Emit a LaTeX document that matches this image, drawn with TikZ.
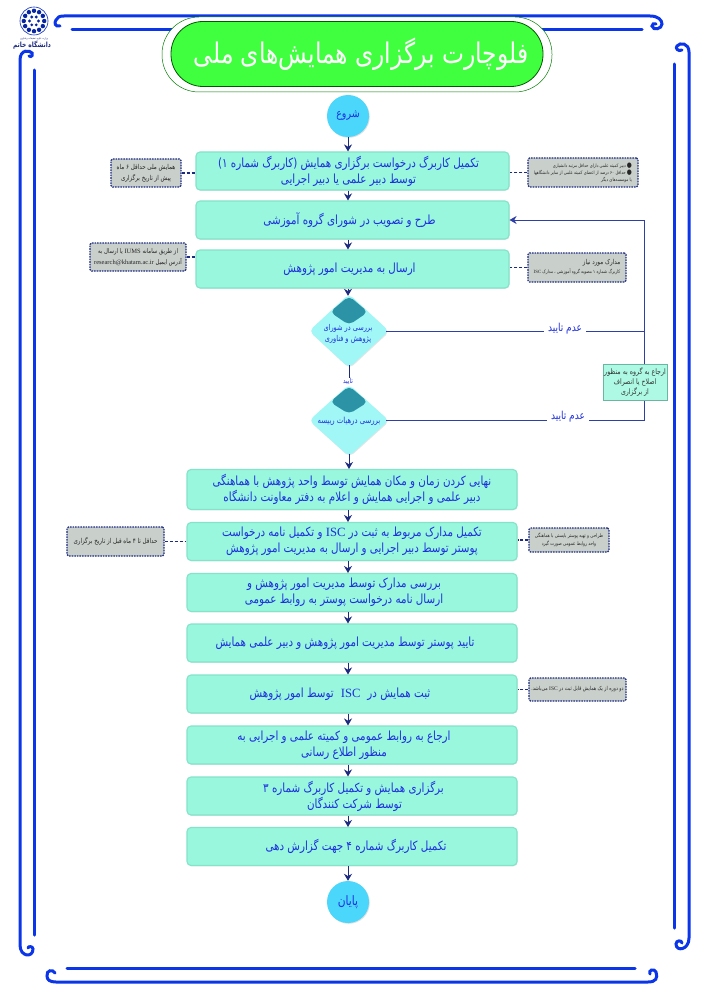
\documentclass[tikz,border=0pt]{standalone}
\usepackage{fontspec}
\usetikzlibrary{shapes.geometric,arrows.meta,shadows,calc}
\TeXXeTstate=1
\newfontfamily\fa[Script=Arabic,FakeStretch=0.82]{DejaVu Sans}
\newfontfamily\lat{Liberation Serif}
\newcommand{\fl}[1]{\beginR #1\endR}
\newcommand{\isc}[1]{\beginL{\lat #1}\endL{}}
\newcommand{\blt}{{\fontsize{7}{7}\selectfont ●}}
\definecolor{boxfill}{HTML}{98F7DC}
\definecolor{boxline}{HTML}{84E3C8}
\definecolor{txtblue}{HTML}{1E2FE0}
\definecolor{navy}{HTML}{1C2B80}
\definecolor{fbline}{HTML}{2F3FA8}
\definecolor{notefill}{HTML}{C9CFCB}
\definecolor{frameblue}{HTML}{0A35E8}
\definecolor{titlegreen}{HTML}{3FFF3F}
\definecolor{diafill}{HTML}{A0F7F5}
\definecolor{capfill}{HTML}{2C93A6}
\definecolor{circfill}{HTML}{4BD6FB}
\tikzset{
  x=1pt,y=-1pt,
  stepbox/.style={rectangle,rounded corners=4pt,fill=boxfill,draw=boxline,line width=1.1pt,
    align=center,text=txtblue,inner sep=0pt,font=\fa\fontsize{12.6}{16}\selectfont,
    drop shadow={opacity=.18,shadow xshift=.6pt,shadow yshift=-.8pt}},
  termcirc/.style={circle,fill=circfill,text=txtblue,inner sep=0pt,minimum size=42pt,
    font=\fa\fontsize{11.5}{13}\selectfont,
    drop shadow={opacity=.25,shadow xshift=.8pt,shadow yshift=-.8pt}},
  notebox/.style={rectangle,rounded corners=1.5pt,fill=notefill,draw=navy,line width=1.2pt,
    dash pattern=on 1.6pt off 1pt,align=center,text=black!85,inner sep=0pt,font=\fa\fontsize{6.8}{11}\selectfont},
  diabox/.style={diamond,fill=diafill,inner sep=0pt,rounded corners=5pt,
    drop shadow={opacity=.2,shadow xshift=.6pt,shadow yshift=-.8pt}},
  flowarrow/.style={draw=navy,line width=.9pt,-{Stealth[length=7pt,width=8pt]}},
  dashlink/.style={draw=navy,line width=1.1pt,dash pattern=on 3pt off 2pt},
  fbk/.style={draw=fbline,line width=.9pt},
  labelblue/.style={text=txtblue,font=\fa\fontsize{11}{13}\selectfont,inner ysep=0pt,inner xsep=4pt},
  frameln/.style={draw=frameblue,line width=3pt,line cap=round},
  capshape/.style={fill=capfill,rounded corners=5pt},
}
\begin{document}
\begin{tikzpicture}
\useasboundingbox[fill=white] (0,0) rectangle (707,1000);
% frame
\draw[frameln] (72,30) -- (642,30);
\draw[frameln] (60,26) .. controls (55,27) and (54,23) .. (56,20) .. controls (57,17) and (60,16) .. (64,16) -- (650,16)
  .. controls (658,16) and (662,20) .. (662,24) .. controls (662,29) and (653,31) .. (652,26) .. controls (652,24) and (654,23) .. (656,24);
\draw[frameln] (34,70) -- (34,935);
\draw[frameln] (29,56) .. controls (32,58) and (33,54) .. (32,53) .. controls (30,50) and (20,49) .. (20,60) -- (20,945)
  .. controls (20,957) and (33,958) .. (33,949) .. controls (33,946) and (28,946) .. (28,948);
\draw[frameln] (674,64) -- (674,928);
\draw[frameln] (682,50) .. controls (678,52) and (675,48) .. (677,46) .. controls (680,42) and (689,43) .. (689,52) -- (689,938)
  .. controls (689,950) and (676,952) .. (676,944) .. controls (676,940) and (682,940) .. (682,943);
\draw[frameln] (67,968) -- (635,968);
\draw[frameln] (55,973) .. controls (53,969) and (46,970) .. (47,976) .. controls (47,980) and (50,982) .. (56,982) -- (648,982)
  .. controls (656,982) and (658,978) .. (656,972) .. controls (654,968) and (648,970) .. (650,974);
% logo
\node[circle,draw=frameblue!80!black,line width=.6pt,minimum size=28pt,inner sep=0pt] (logo) at (34,21) {};
\foreach \a in {0,30,...,330}{
  \fill[frameblue!70!black] (34,21) ++(\a:10.2) circle (2.2);
}
\foreach \a in {0,60,...,300}{
  \fill[frameblue!70!black] (34,21) ++(\a:4.5) circle (1.6);
}
\node[inner sep=0pt,text=navy,font=\fa\fontsize{2.6}{3}\selectfont] (logot1) at (34,39) {\fl{وزارت علوم، تحقیقات و فناوری}};
\node[inner sep=0pt,text=navy,font=\fa\bfseries\fontsize{7.2}{8}\selectfont] (logot2) at (32,45) {\fl{دانشگاه خاتم}};
% title
\node[rectangle,rounded corners=37pt,draw=green!50!black,line width=.5pt,fill=white,minimum width=390pt,minimum height=75pt] (halo) at (357,54.5) {};
\node[rectangle,rounded corners=32pt,draw=green!35!black,line width=.8pt,fill=titlegreen,minimum width=372pt,minimum height=65pt,text=white,font=\fa\fontsize{28.5}{32}\selectfont,inner sep=0pt] (title) at (357,54) {\kern8pt\fl{فلوچارت برگزاری همایش^^^^200cهای ملی}};
% start
\node[termcirc] (s) at (348,116) {\fl{شروع}};
% boxes
\node[stepbox,minimum width=313pt,minimum height=38pt] (b1) at (352.5,171) {\fl{تکمیل کاربرگ درخواست برگزاری همایش (کاربرگ شماره ۱)}\kern8pt\\\fl{توسط دبیر علمی یا دبیر اجرایی}\kern8pt};
\node[stepbox,minimum width=313pt,minimum height=38pt] (b2) at (352.5,220) {\fl{طرح و تصویب در شورای گروه آموزشی}\kern6pt};
\node[stepbox,minimum width=313pt,minimum height=38pt] (b3) at (352.5,269) {\fl{ارسال به مدیریت امور پژوهش}\kern6pt};
% decisions
\node[diabox,minimum width=80pt,minimum height=74pt] (d1) at (349,331) {};
\path[capshape] (349,296) -- (368,312) -- (349,325) -- (330,312) -- cycle;
\node[inner sep=0pt,align=center,text=txtblue,font=\fa\fontsize{8}{11.5}\selectfont] (d1t) at (348,334) {\fl{بررسی در شورای}\\\fl{پژوهش و فناوری}};
\node[diabox,minimum width=80pt,minimum height=72pt] (d2) at (349,420.5) {};
\path[capshape] (349,386) -- (368,402) -- (349,414) -- (330,402) -- cycle;
\node[inner sep=0pt,text=txtblue,font=\fa\fontsize{8.4}{11}\selectfont] (d2t) at (349,421) {\fl{بررسی درهیات رییسه}};
\node[labelblue,inner xsep=0pt,font=\fa\fontsize{7}{9}\selectfont] (ok) at (348,381) {\fl{تایید}};
% lower boxes
\node[stepbox,minimum width=330pt,minimum height=40pt] (b4) at (352,489.5) {\fl{نهایی کردن زمان و مکان همایش توسط واحد پژوهش با هماهنگی}\\\fl{دبیر علمی و اجرایی همایش و اعلام به دفتر معاونت دانشگاه}};
\node[stepbox,minimum width=330pt,minimum height=38pt] (b5) at (352,541.5) {\fl{تکمیل مدارک مربوط به ثبت در \isc{ISC} و تکمیل نامه درخواست}\\\fl{پوستر توسط دبیر اجرایی و ارسال به مدیریت امور پژوهش}};
\node[stepbox,minimum width=330pt,minimum height=38pt] (b6) at (352,592.5) {\fl{بررسی مدارک توسط مدیریت امور پژوهش و}\kern16pt\\\fl{ارسال نامه درخواست پوستر به روابط عمومی}\kern16pt};
\node[stepbox,minimum width=330pt,minimum height=38pt] (b7) at (352,643) {\fl{تایید پوستر توسط مدیریت امور پژوهش و دبیر علمی همایش}\kern14pt};
\node[stepbox,minimum width=330pt,minimum height=38pt] (b8) at (352,694) {\fl{ثبت همایش در\kern7pt\isc{ISC}\kern7pt توسط امور پژوهش}\kern24pt};
\node[stepbox,minimum width=330pt,minimum height=38pt] (b9) at (352,745) {\raisebox{1.5pt}{\fl{ارجاع به روابط عمومی و کمیته علمی و اجرایی به}}\kern16pt\\\raisebox{1.5pt}{\fl{منظور اطلاع رسانی}}\kern16pt};
\node[stepbox,minimum width=330pt,minimum height=38pt] (b10) at (352,796) {\kern3pt\fl{برگزاری همایش و تکمیل کاربرگ شماره ۳}\\\kern5pt\fl{توسط شرکت کنندگان}};
\node[stepbox,minimum width=330pt,minimum height=38pt] (b11) at (352,846.5) {\kern8pt\fl{تکمیل کاربرگ شماره ۴ جهت گزارش دهی}};
\node[termcirc,font=\fa\fontsize{13}{15}\selectfont] (e) at (348,902) {\fl{پایان}};
% notes
\node[notebox,minimum width=70pt,minimum height=28pt] (n1) at (146,173) {\fl{همایش ملی حداقل ۶ ماه}\\\fl{پیش از تاریخ برگزاری}};
\node[notebox,minimum width=96pt,minimum height=28pt,font=\fa\fontsize{6.5}{11}\selectfont] (n2) at (138,257) {\fl{از طریق سامانه \isc{IUMS} یا ارسال به}\\\fl{آدرس ایمیل \isc{research@khatam.ac.ir}}};
\node[notebox,minimum width=110pt,minimum height=29pt,align=right,font=\fa\fontsize{4.7}{7}\selectfont] (n3) at (583,172.5) {\fl{\blt{} دبیر کمیته علمی دارای حداقل مرتبه دانشیاری}\\\fl{\blt{} حداقل ۶۰ درصد از اعضای کمیته علمی از سایر دانشگاهها}\\\fl{یا موسسه^^^^200cهای دیگر\kern6pt}};
\node[notebox,minimum width=98pt,minimum height=29pt,font=\fa\fontsize{4.8}{9}\selectfont,align=right] (n4) at (577,267.5) {\fl{\fontsize{6.8}{9}\selectfont مدارک مورد نیاز}\\\fl{کاربرگ شماره ۱ مصوبه گروه آموزشی ، مدارک \isc{ISC}}};
\node[notebox,minimum width=97pt,minimum height=29pt] (n5) at (115.5,541.5) {\fl{حداقل تا ۴ ماه قبل از تاریخ برگزاری}};
\node[notebox,minimum width=80pt,minimum height=24pt,font=\fa\fontsize{5}{8}\selectfont] (n6) at (569,540) {\fl{طراحی و تهیه پوستر بایستی با هماهنگی}\\\fl{واحد روابط عمومی صورت گیرد}};
\node[notebox,minimum width=97pt,minimum height=23pt,font=\fa\fontsize{5.5}{8}\selectfont] (n7) at (577.5,689.5) {\fl{دو دوره از یک همایش قابل ثبت در \isc{ISC} می^^^^200cباشد.}};
% flow connectors
\draw[flowarrow] (s.south) -- (s |- b1.north);
\draw[flowarrow] (s |- b1.south) -- (s |- b2.north);
\draw[flowarrow] (s |- b2.south) -- (s |- b3.north);
\draw[flowarrow,shorten >=-2pt] (s |- b3.south) -- (s |- d1.north);
\draw[draw=navy,line width=.9pt,shorten <=-3pt] (d1.south) -- (d1.south |- ok.north);
\draw[flowarrow,shorten <=-3pt] (d2.south) -- (d2.south |- b4.north);
\draw[flowarrow] (s |- b4.south) -- (s |- b5.north);
\draw[flowarrow] (s |- b5.south) -- (s |- b6.north);
\draw[flowarrow] (s |- b6.south) -- (s |- b7.north);
\draw[flowarrow] (s |- b7.south) -- (s |- b8.north);
\draw[flowarrow] (s |- b8.south) -- (s |- b9.north);
\draw[flowarrow] (s |- b9.south) -- (s |- b10.north);
\draw[flowarrow] (s |- b10.south) -- (s |- b11.north);
\draw[flowarrow] (s |- b11.south) -- (e.north);
% dashed links
\draw[dashlink] (n1.east) -- (n1.east -| b1.west);
\draw[dashlink] (n2.east) -- (n2.east -| b3.west);
\draw[dashlink] (n3.west) -- (n3.west -| b1.east);
\draw[dashlink] (n4.west) -- (n4.west -| b3.east);
\draw[dashlink] (n5.east) -- (n5.east -| b5.west);
\draw[dashlink] (n6.west) -- (n6.west -| b5.east);
\draw[dashlink] (n7.west) -- (n7.west -| b8.east);
% feedback
\coordinate (cor) at (644,420.5);
\node[labelblue] (l1) at (565,329) {\fl{عدم تایید}};
\node[labelblue] (l2) at (568,417) {\fl{عدم تایید}};
\draw[fbk,shorten <=-3pt] (d1.east) -- (l1.west |- d1.east);
\draw[fbk] (l1.east |- d1.east) -- (d1.east -| cor);
\draw[fbk,shorten <=-3pt] (d2.east) -- (l2.west |- d2.east);
\draw[fbk] (l2.east |- d2.east) -- (cor);
\draw[fbk,-{Stealth[length=7pt,width=8pt]}] (cor) -- (cor |- b2.east) -- (b2.east);
\node[rectangle,fill=boxfill!80!white,draw=boxline!80!black,line width=.8pt,minimum width=64pt,minimum height=36pt,inner sep=0pt,align=center,text=black!80,font=\fa\fontsize{7.6}{10}\selectfont] (back) at (635,382) {\fl{ارجاع به گروه به منظور}\\\fl{اصلاح یا انصراف}\\\fl{از برگزاری}};
\end{tikzpicture}
\end{document}
